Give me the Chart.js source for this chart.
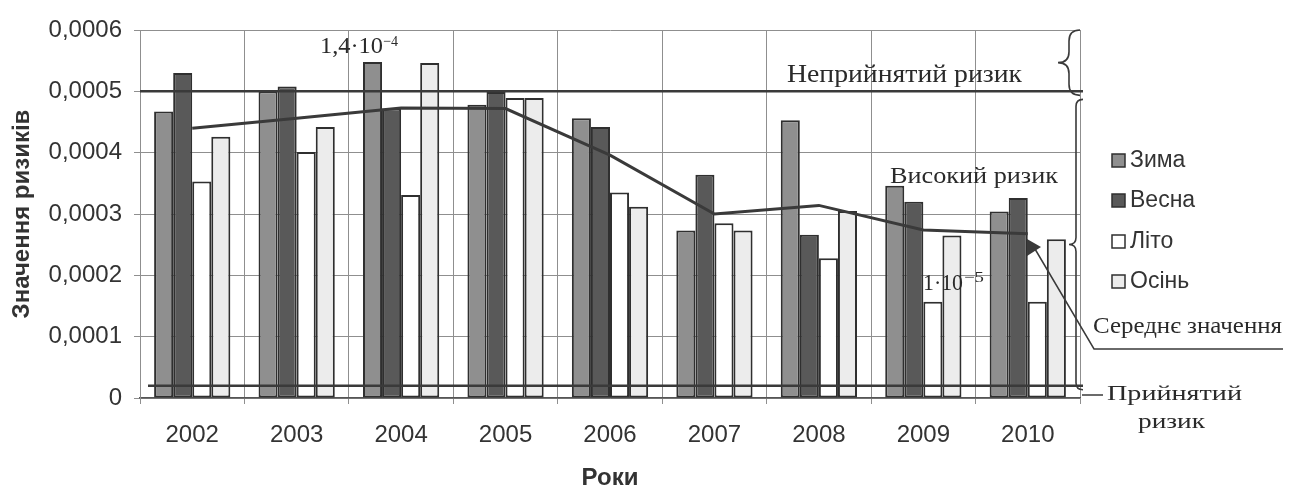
<!DOCTYPE html>
<html>
<head>
<meta charset="utf-8">
<script src="https://cdn.jsdelivr.net/npm/chart.js@4.4.1/dist/chart.umd.min.js"></script>
<style>
  body { margin: 0; background: #fff; }
  #wrap { width: 1291px; height: 489px; }
</style>
</head>
<body>
<div id="wrap"><canvas id="chart" width="1291" height="489"></canvas></div>
<script>
// Risk values by season, 2002-2010
const years = ['2002', '2003', '2004', '2005', '2006', '2007', '2008', '2009', '2010'];
const winter = [0.000467, 0.000500, 0.000548, 0.000478, 0.000456, 0.000273, 0.000453, 0.000346, 0.000304];
const spring = [0.000530, 0.000508, 0.000472, 0.000499, 0.000442, 0.000364, 0.000266, 0.000320, 0.000326];
const summer = [0.000353, 0.000401, 0.000331, 0.000489, 0.000335, 0.000285, 0.000228, 0.000157, 0.000157];
const autumn = [0.000426, 0.000442, 0.000546, 0.000489, 0.000312, 0.000273, 0.000305, 0.000265, 0.000259];
const meanValues = [0.000440, 0.000456, 0.000473, 0.000472, 0.000396, 0.000300, 0.000314, 0.000274, 0.000268];

// Threshold lines: unacceptable risk, acceptable risk
const riskLevels = [0.0005, 0.00002];
const seasonNames = ['Зима', 'Весна', 'Літо', 'Осінь'];

const ink = '#333';
const edge = '#2f2f2f';
const fills = ['#8f8f8f', '#595959', '#ffffff', '#ececec'];
const sans = "'Liberation Sans', Arial, sans-serif";
const serif = "'Liberation Serif', 'Times New Roman', serif";

// draw text squeezed/stretched to a given width
function fitText(ctx, str, x, base, font, width) {
    ctx.font = font;
    const w = ctx.measureText(str).width;
    ctx.save();
    ctx.translate(x, base);
    ctx.scale(width / w, 1);
    ctx.fillText(str, 0, 0);
    ctx.restore();
}

function brace(ctx, x, y1, y2, d) {
    const m = (y1 + y2) / 2;
    ctx.beginPath();
    ctx.moveTo(x + d, y1);
    ctx.quadraticCurveTo(x, y1, x, y1 + d);
    ctx.lineTo(x, m - d);
    ctx.quadraticCurveTo(x, m, x - d, m);
    ctx.quadraticCurveTo(x, m, x, m + d);
    ctx.lineTo(x, y2 - d);
    ctx.quadraticCurveTo(x, y2, x + d, y2);
    ctx.stroke();
}

const overlay = {
    id: 'overlay',
    afterDatasetsDraw(chart) {
        const { ctx, chartArea: a, scales: { y } } = chart;
        ctx.save();

        // threshold lines
        ctx.strokeStyle = '#3a3a3a';
        ctx.lineWidth = 2.5;
        riskLevels.forEach((v, i) => {
            const py = y.getPixelForValue(v);
            ctx.beginPath();
            ctx.moveTo(a.left + (i ? 8 : 0), py);
            ctx.lineTo(a.right + 3, py);
            ctx.stroke();
        });

        // braces on the right
        ctx.lineWidth = 1.6;
        brace(ctx, a.right - 11, y.getPixelForValue(0.0006), y.getPixelForValue(0.0005) + 4, 11);
        brace(ctx, a.right - 4, y.getPixelForValue(0.0005) + 8, y.getPixelForValue(0.00002) + 4, 7);

        // leader for the mean value
        ctx.fillStyle = '#3a3a3a';
        ctx.beginPath();
        ctx.moveTo(1027, 239);
        ctx.lineTo(1027, 256);
        ctx.lineTo(1041, 247);
        ctx.closePath();
        ctx.fill();
        ctx.lineWidth = 1.5;
        ctx.beginPath();
        ctx.moveTo(1035, 249);
        ctx.lineTo(1094, 349);
        ctx.lineTo(1283, 349);
        ctx.stroke();
        ctx.beginPath();
        ctx.moveTo(a.right + 2, 395);
        ctx.lineTo(1103, 395);
        ctx.stroke();

        // serif annotations
        ctx.fillStyle = '#2a2a2a';
        ctx.textBaseline = 'alphabetic';
        fitText(ctx, 'Неприйнятий ризик', 787, 82, '25px ' + serif, 235);
        fitText(ctx, 'Високий ризик', 890, 183, '24px ' + serif, 168);
        fitText(ctx, 'Середнє значення', 1093, 333, '23px ' + serif, 189);
        fitText(ctx, 'Прийнятий', 1107, 400, '22px ' + serif, 135);
        fitText(ctx, 'ризик', 1138, 428, '22px ' + serif, 67);
        fitText(ctx, '1,4·10', 320, 53, '24px ' + serif, 63);
        fitText(ctx, '−4', 383, 46, '15px ' + serif, 15);
        fitText(ctx, '1·10', 923, 290, '24px ' + serif, 40);
        fitText(ctx, '−5', 964, 282, '15px ' + serif, 20);

        // legend
        const rows = [160, 200, 241, 281];
        ctx.font = '23px ' + sans;
        ctx.textBaseline = 'middle';
        rows.forEach((ry, i) => {
            ctx.fillStyle = fills[i];
            ctx.fillRect(1112, ry - 6, 13, 13);
            ctx.strokeStyle = edge;
            ctx.lineWidth = 1.5;
            ctx.strokeRect(1112, ry - 6, 13, 13);
            ctx.fillStyle = ink;
            ctx.fillText(seasonNames[i], 1130, ry + 1);
        });

        ctx.restore();
    }
};

function barSet(label, data, i) {
    return {
        type: 'bar',
        label,
        data,
        backgroundColor: fills[i],
        borderColor: edge,
        borderWidth: 2,
        borderSkipped: false,
        categoryPercentage: 0.73,
        barPercentage: 1.0,
        order: 1
    };
}

const ctx = document.getElementById('chart').getContext('2d');
new Chart(ctx, {
    data: {
        labels: years,
        datasets: [
            barSet(seasonNames[0], winter, 0),
            barSet(seasonNames[1], spring, 1),
            barSet(seasonNames[2], summer, 2),
            barSet(seasonNames[3], autumn, 3),
            {
                type: 'line',
                label: 'Середнє значення',
                data: meanValues,
                borderColor: '#3a3a3a',
                borderWidth: 3,
                pointRadius: 0,
                tension: 0,
                order: 0
            }
        ]
    },
    options: {
        responsive: false,
        animation: false,
        layout: { padding: { left: 0, top: 30, right: 211, bottom: 0 } },
        plugins: {
            legend: { display: false },
            tooltip: { enabled: false }
        },
        scales: {
            x: {
                grid: { color: '#8f8f8f', lineWidth: 1, offset: true, tickLength: 6 },
                border: { color: '#555', width: 1.5 },
                ticks: { color: ink, font: { family: sans, size: 24 }, padding: 17 },
                title: {
                    display: true,
                    text: 'Роки',
                    color: ink,
                    font: { family: sans, size: 24, weight: 'bold', lineHeight: 0.85 },
                    padding: { top: 0, bottom: 0 }
                },
                afterFit(scale) { scale.height = 91; }
            },
            y: {
                min: 0,
                max: 0.0006,
                grid: { color: '#8f8f8f', lineWidth: 1, tickLength: 6 },
                border: { color: '#8f8f8f', width: 1 },
                ticks: {
                    stepSize: 0.0001,
                    color: ink,
                    padding: 12,
                    font: { family: sans, size: 24 },
                    callback: v => v === 0 ? '0' : v.toFixed(4).replace('.', ',')
                },
                title: {
                    display: true,
                    text: 'Значення ризиків',
                    color: ink,
                    font: { family: sans, size: 24, weight: 'bold' },
                    padding: { top: 8, bottom: 0 }
                },
                afterFit(scale) { scale.width = 140; }
            }
        }
    },
    plugins: [overlay]
});
</script>
</body>
</html>
